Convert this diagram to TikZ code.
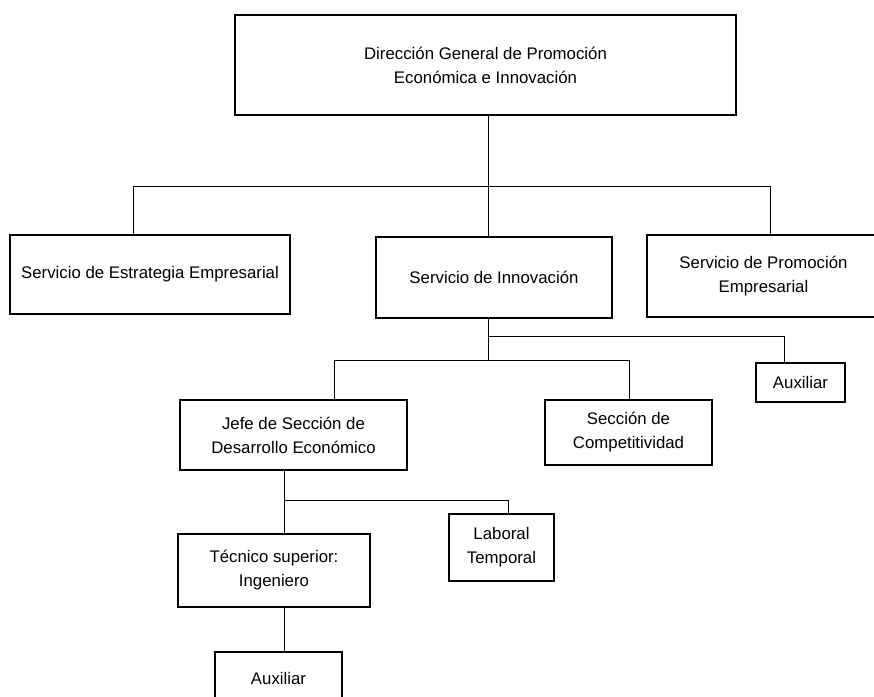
\documentclass[tikz,border=0pt]{standalone}
\usepackage{fontspec}
\setmainfont{Liberation Sans}
\begin{document}
\begin{tikzpicture}[x=1pt,y=-1pt,
  unidad/.style={draw,line width=2.2pt,align=center,inner sep=0pt,font=\fontsize{16.8}{24}\selectfont},
  enlace/.style={line width=1pt}]
\useasboundingbox (0,0) rectangle (874,696);
\node[unidad,minimum width=501pt,minimum height=100pt](dg) at (485.5,65) {Dirección General de Promoción\\Económica e Innovación};
\node[unidad,minimum width=280pt,minimum height=79pt](estrategia) at (150,274.5) {Servicio de Estrategia Empresarial};
\node[unidad,minimum width=236pt,minimum height=81pt](innovacion) at (494,277.5) {Servicio de Innovación};
\node[unidad,minimum width=233pt,minimum height=82pt](promocion) at (763.5,276) {Servicio de Promoción\\Empresarial};
\node[unidad,minimum width=89pt,minimum height=39pt](aux1) at (800.5,382.5) {Auxiliar};
\node[unidad,minimum width=227pt,minimum height=70pt](jefe) at (293.5,435) {Jefe de Sección de\\Desarrollo Económico};
\node[unidad,minimum width=167pt,minimum height=65pt](competitividad) at (628.5,432.5) {Sección de\\Competitividad};
\node[unidad,minimum width=105pt,minimum height=67pt](laboral) at (501.5,547.5) {Laboral\\Temporal};
\node[unidad,minimum width=192pt,minimum height=73pt](tecnico) at (274,570.5) {Técnico superior:\\Ingeniero};
\node[unidad,minimum width=127pt,minimum height=52pt](aux2) at (278.5,678) {Auxiliar};
\coordinate (b1) at (488,186);
\coordinate (b1l) at (133,186);
\coordinate (b1r) at (770,186);
\coordinate (b2) at (488,336);
\coordinate (b2r) at (784,336);
\coordinate (b3) at (488,360);
\coordinate (b3l) at (334,360);
\coordinate (b3r) at (629,360);
\coordinate (b4) at (284,500);
\coordinate (b4r) at (508,500);
\draw[enlace] (dg.south -| b1) -- (innovacion.north -| b1);
\draw[enlace] (b1l) -- (b1r);
\draw[enlace] (b1l) -- (estrategia.north -| b1l);
\draw[enlace] (b1r) -- (promocion.north -| b1r);
\draw[enlace] (innovacion.south -| b3) -- (b3);
\draw[enlace] (b2) -- (b2r) -- (aux1.north -| b2r);
\draw[enlace] (b3l) -- (b3r);
\draw[enlace] (b3l) -- (jefe.north -| b3l);
\draw[enlace] (b3r) -- (competitividad.north -| b3r);
\draw[enlace] (jefe.south -| b4) -- (tecnico.north -| b4);
\draw[enlace] (b4) -- (b4r) -- (laboral.north -| b4r);
\draw[enlace] (tecnico.south -| b4) -- (aux2.north -| b4);
\end{tikzpicture}
\end{document}
